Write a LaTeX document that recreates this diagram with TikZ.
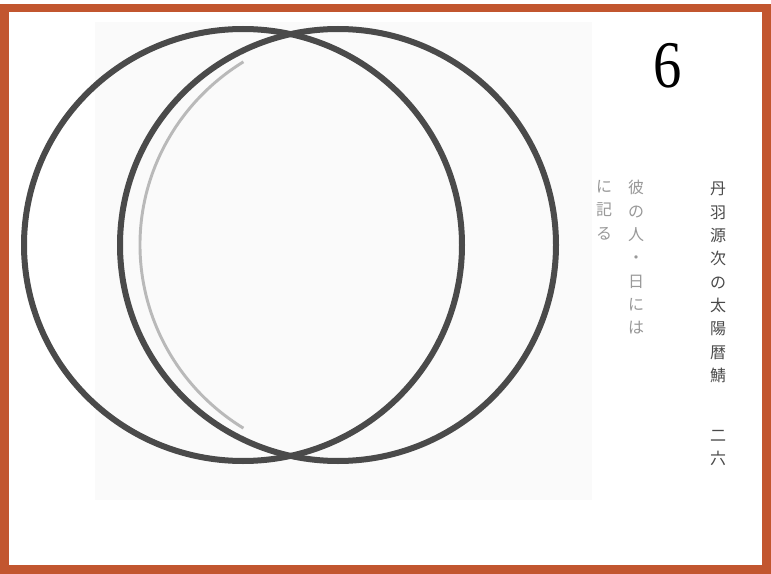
\documentclass[tikz,border=0pt]{standalone}
\usepackage{fontspec}
\setmainfont{Liberation Serif}
\newfontfamily\jpfont{Noto Sans CJK JP}
\definecolor{frameorange}{HTML}{C2562F}
\definecolor{inkgray}{HTML}{4A4A4A}

\tikzset{
  ring/.style={draw=inkgray, line width=4.5pt},
  faintring/.style={draw=gray!55, line width=2.2pt},
  tatecol/.style={font=\jpfont\fontsize{12}{17.5}\selectfont, align=center, anchor=north, inner sep=0pt}
}

\begin{document}
\begin{tikzpicture}[x=0.75pt,y=-0.75pt]
    \useasboundingbox (0,0) rectangle (771,574);
    % Page
      \fill[white] (0,0) rectangle (771,574);
      \fill[gray!4] (95,22) rectangle (592,500);

    % Circles
      \draw[ring] (243,245) ellipse (219 and 216);
      \draw[ring] (338,245) ellipse (218 and 216);
      \draw[faintring] (360,245) ++(122:220 and 216) arc (122:238:220 and 216);

    % Number
      \node[font=\fontsize{50}{50}\selectfont, xscale=0.85] (num) at (668,66) {6};

    % Text
      \node[tatecol, text=inkgray] (title) at (718,182) {丹\\羽\\源\\次\\の\\太\\陽\\暦\\鯖};
      \node[tatecol, text=inkgray] (page) at (718,430) {二\\六};
      \node[tatecol, text=gray!80] (noteA) at (636,180) {彼\\の\\人\\・\\日\\に\\は};
      \node[tatecol, text=gray!80] (noteB) at (604,180) {に\\記\\る};

    % Frame
      \draw[frameorange, line width=6.5pt] (4.5,8) rectangle (766.5,569.5);
  \end{tikzpicture}
\end{document}
